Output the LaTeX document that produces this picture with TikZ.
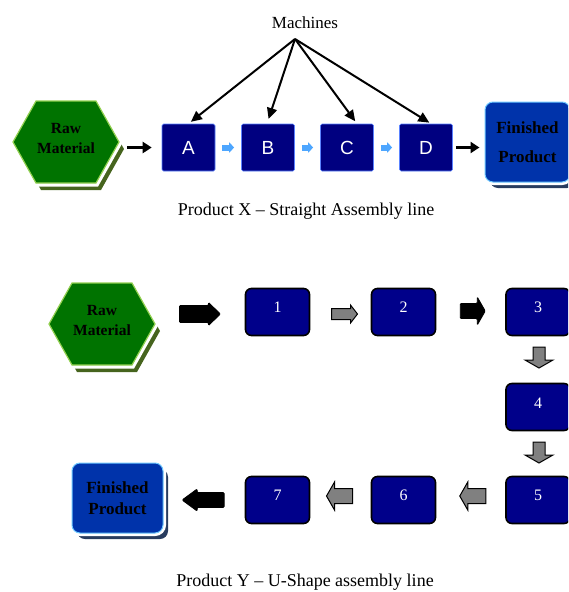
\documentclass[tikz,border=0pt]{standalone}
\usepackage{fontspec}
\setmainfont{Liberation Serif}
\newfontfamily\arialf{Liberation Sans}
\usetikzlibrary{arrows.meta,calc,shadows}

\definecolor{navyA}{RGB}{0,0,128}
\definecolor{navyB}{RGB}{0,0,138}
\definecolor{boxedge}{RGB}{90,130,255}
\definecolor{fpblue}{RGB}{0,51,170}
\definecolor{fpedge}{RGB}{110,200,255}
\definecolor{fpshadow}{RGB}{40,60,95}
\definecolor{hexgreen}{RGB}{0,115,0}
\definecolor{hexedge}{RGB}{146,208,80}
\definecolor{hexshadow}{RGB}{70,100,30}
\definecolor{lightarrow}{RGB}{77,166,255}
\definecolor{arrowgray}{RGB}{128,128,128}

\newcommand{\hexshape}[2]{\draw[#1, shift={#2}] (-53,0) -- (-30,-41) -- (30,-41) -- (53,0) -- (30,41) -- (-30,41) -- cycle;}
\newcommand{\blockarrow}[7]{\draw[#1, shift={#2}, rotate=#3] ({-#4/2},{-#5}) -- ({#4/2-#7},{-#5}) -- ({#4/2-#7},{-#6}) -- ({#4/2},0) -- ({#4/2-#7},{#6}) -- ({#4/2-#7},{#5}) -- ({-#4/2},{#5}) -- cycle;}

\tikzset{
  machtext/.style={inner sep=1pt, font=\fontsize{17}{20}\selectfont},
  captext/.style={inner sep=1pt, font=\fontsize{18}{21}\selectfont},
  rawtext/.style={minimum width=106pt, inner sep=0pt, align=center, font=\bfseries\fontsize{15.5}{20}\selectfont},
  fpnode/.style={rounded corners=8pt, fill=fpblue, draw=fpedge, line width=1pt, inner sep=0pt, align=center,
     drop shadow={shadow xshift=5pt, shadow yshift=-6pt, fill=fpshadow, opacity=1},
     preaction={draw=white, line width=6pt}},
  boxtop/.style={fill=navyA, draw=boxedge, line width=0.6pt, rounded corners=1.5pt, minimum width=53pt, minimum height=47pt, inner sep=0pt, text=white, font=\arialf\fontsize{19}{19}\selectfont},
  boxbot/.style={fill=navyB, draw=black, line width=1.6pt, rounded corners=6pt, minimum width=64pt, minimum height=47pt, inner sep=0pt},
  numtext/.style={inner sep=0pt, text=white, font=\fontsize{16}{16}\selectfont},
  macharrow/.style={line width=2pt, -{Triangle[length=11pt,width=10pt]}},
  blackarrow/.style={line width=3.5pt, -{Triangle[length=9pt,width=11pt]}},
  bluearrow/.style={draw=lightarrow, line width=6pt, -{Triangle[length=5pt,width=10pt]}, shorten <=7pt, shorten >=7pt},
  grayblock/.style={fill=arrowgray, draw=black, line width=1pt},
  blackblock/.style={fill=black, draw=black, line width=0.8pt, rounded corners=1pt}
}

\begin{document}
\begin{tikzpicture}[x=1pt,y=-1pt]
\path[use as bounding box] (0,0) rectangle (568,592);
\clip (0,0) rectangle (568,592);

% ---------------- Product X ----------------
\node[machtext] (mach) at (305,23) {Machines};
\coordinate (src) at (295,39);

\hexshape{fill=hexshadow,draw=none}{(71,149)}
\hexshape{draw=white,line width=7pt}{(66,142)}
\hexshape{fill=hexgreen,draw=hexedge,line width=1.2pt}{(66,142)}
\node[rawtext] (rawX) at (66,138) {Raw\\Material};

\node[boxtop] (A) at (188.5,147.5) {A};
\node[boxtop] (B) at (268,147.5) {B};
\node[boxtop] (C) at (347,147.5) {C};
\node[boxtop] (D) at (426,147.5) {D};

\node[fpnode, minimum width=85pt, minimum height=80pt, font=\bfseries\fontsize{17}{29}\selectfont] (fpX) at (527.5,142) {Finished\\Product};

\draw[macharrow, shorten >=3pt] (src) -- (A.north);
\draw[macharrow, shorten >=5pt] (src) -- ([xshift=-1pt]B.north);
\draw[macharrow, shorten >=3pt] (src) -- ([xshift=10pt]C.north);
\draw[macharrow, shorten >=2pt] (src) -- ([xshift=5pt]D.north);

\draw[blackarrow, shorten <=8pt, shorten >=10pt] (rawX.east |- A.west) -- (A.west);
\draw[bluearrow] (A) -- (B);
\draw[bluearrow] (B) -- (C);
\draw[bluearrow] (C) -- (D);
\draw[blackarrow, shorten <=3pt, shorten >=5pt] (D.east) -- (D.east -| fpX.west);

\node[captext] (capX) at (306,211) {Product X – Straight Assembly line};

% ---------------- Product Y ----------------
\hexshape{fill=hexshadow,draw=none}{(107,331)}
\hexshape{draw=white,line width=7pt}{(102,324)}
\hexshape{fill=hexgreen,draw=hexedge,line width=1.2pt}{(102,324)}
\node[rawtext] (rawY) at (102,320) {Raw\\Material};

\node[boxbot] (b1) at (277.5,312) {};
\node[boxbot] (b2) at (403.5,312) {};
\node[boxbot] (b3) at (538,312) {};
\node[boxbot] (b4) at (538,407) {};
\node[boxbot] (b5) at (538,500) {};
\node[boxbot] (b6) at (403.5,500) {};
\node[boxbot] (b7) at (277.5,500) {};
\node[numtext] (n1) at ([yshift=4.5pt]b1.center) {1};
\node[numtext] (n2) at ([yshift=4.5pt]b2.center) {2};
\node[numtext] (n3) at ([yshift=4.5pt]b3.center) {3};
\node[numtext] (n4) at ([yshift=4pt]b4.center) {4};
\node[numtext] (n5) at ([yshift=4.5pt]b5.center) {5};
\node[numtext] (n6) at ([yshift=4.5pt]b6.center) {6};
\node[numtext] (n7) at ([yshift=4.5pt]b7.center) {7};

\node[fpnode, minimum width=91pt, minimum height=70pt, font=\bfseries\fontsize{17}{21}\selectfont] (fpY) at (117.5,498) {Finished\\Product};

\blockarrow{blackblock}{($(rawY.east |- b1.west)!.5!(b1.west)+(0,2)$)}{0}{41}{8.5}{11.5}{12}
\blockarrow{grayblock}{($(b1.east)!.5!(b2.west)+(4,2)$)}{0}{26}{5.5}{9}{7}
\blockarrow{blackblock}{($(b2.east)!.5!(b3.west)+(2,-1)$)}{0}{25}{7.5}{14}{8}
\blockarrow{grayblock}{($(b3.south)!.5!(b4.north)+(1,-2)$)}{-90}{21}{6}{14}{8}
\blockarrow{grayblock}{($(b4.south)!.5!(b5.north)+(1,-1)$)}{-90}{21}{6}{14}{8}
\blockarrow{grayblock}{($(b5.west)!.5!(b6.east)+(2,-4)$)}{180}{26}{7.5}{14}{8}
\blockarrow{grayblock}{($(b6.west)!.5!(b7.east)+(-1,-4)$)}{180}{26}{7.5}{14}{8}
\blockarrow{blackblock}{($(b7.west)!.5!(fpY.east)+(-1,1)$)}{180}{42}{7.5}{11}{15}

\node[captext] (capY) at (305,582) {Product Y – U-Shape assembly line};
\end{tikzpicture}
\end{document}
